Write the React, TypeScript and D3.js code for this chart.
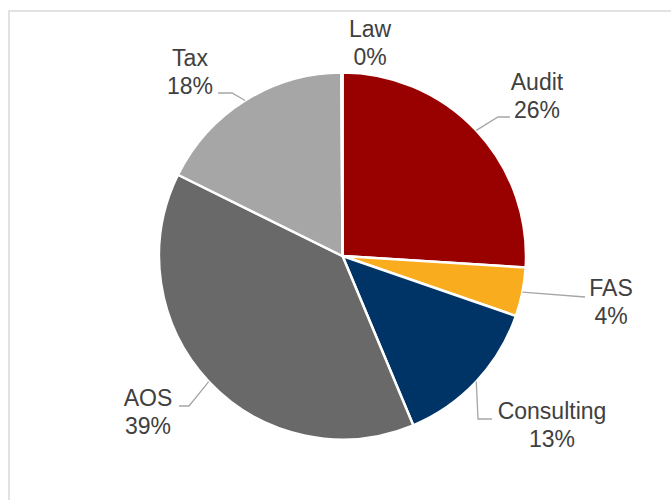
import React from "react";
import * as d3 from "d3";

// slices clockwise from 12 o'clock
const categories = ["Audit", "FAS", "Consulting", "AOS", "Tax", "Law"];
const shares = [26.0, 4.3, 13.4, 38.6, 17.6, 0.1];
const pctLabels = ["26%", "4%", "13%", "39%", "18%", "0%"];
const colors = ["#990000", "#F9AC1E", "#003366", "#696969", "#A6A6A6", "#7F7F7F"];

// label text centre (x, first baseline) and leader bend points
const labelPos: [number, number][] = [
  [537, 90],
  [611, 296],
  [552, 419],
  [148, 406],
  [190, 66],
  [370, 37],
];
const leaderBends: [number, number][][] = [
  [[498, 117], [510, 117]],
  [[585, 297]],
  [[478, 419], [492, 419]],
  [[189, 406], [179, 406]],
  [[232, 93], [218, 93]],
  [],
];

const width = 671;
const height = 500;
const cx = 342.5;
const cy = 256;
const radius = 183.5;

export default function App() {
  const pie = d3
    .pie<number>()
    .sort(null)
    .value((d) => d);
  const arcs = pie(shares);
  const arc = d3.arc<d3.PieArcDatum<number>>().innerRadius(0).outerRadius(radius);

  return (
    <svg
      width={width}
      height={height}
      style={{ position: "absolute", left: 0, top: 0, background: "#fff" }}
    >
      <rect x={9} y={11} width={700} height={520} fill="#fff" stroke="#D9D9D9" strokeWidth={1.5} />
      <g transform={`translate(${cx},${cy})`}>
        {arcs.map((a, i) => (
          <path key={i} d={arc(a) || ""} fill={colors[i]} stroke="#fff" strokeWidth={2.5} />
        ))}
      </g>
      {arcs.map((a, i) => {
        const bends = leaderBends[i];
        if (!bends.length) return null;
        const mid = (a.startAngle + a.endAngle) / 2;
        const start: [number, number] = [cx + radius * Math.sin(mid), cy - radius * Math.cos(mid)];
        const line = d3.line()([start, ...bends]);
        return (
          <path key={"l" + i} d={line || ""} fill="none" stroke="#A6A6A6" strokeWidth={1.3} />
        );
      })}
      {categories.map((c, i) => (
        <text
          key={"t" + i}
          x={labelPos[i][0]}
          y={labelPos[i][1]}
          textAnchor="middle"
          fontFamily="'Liberation Sans', Arial, sans-serif"
          fontSize={23}
          fill="#404040"
        >
          <tspan x={labelPos[i][0]}>{c}</tspan>
          <tspan x={labelPos[i][0]} dy={27.5}>
            {pctLabels[i]}
          </tspan>
        </text>
      ))}
    </svg>
  );
}
